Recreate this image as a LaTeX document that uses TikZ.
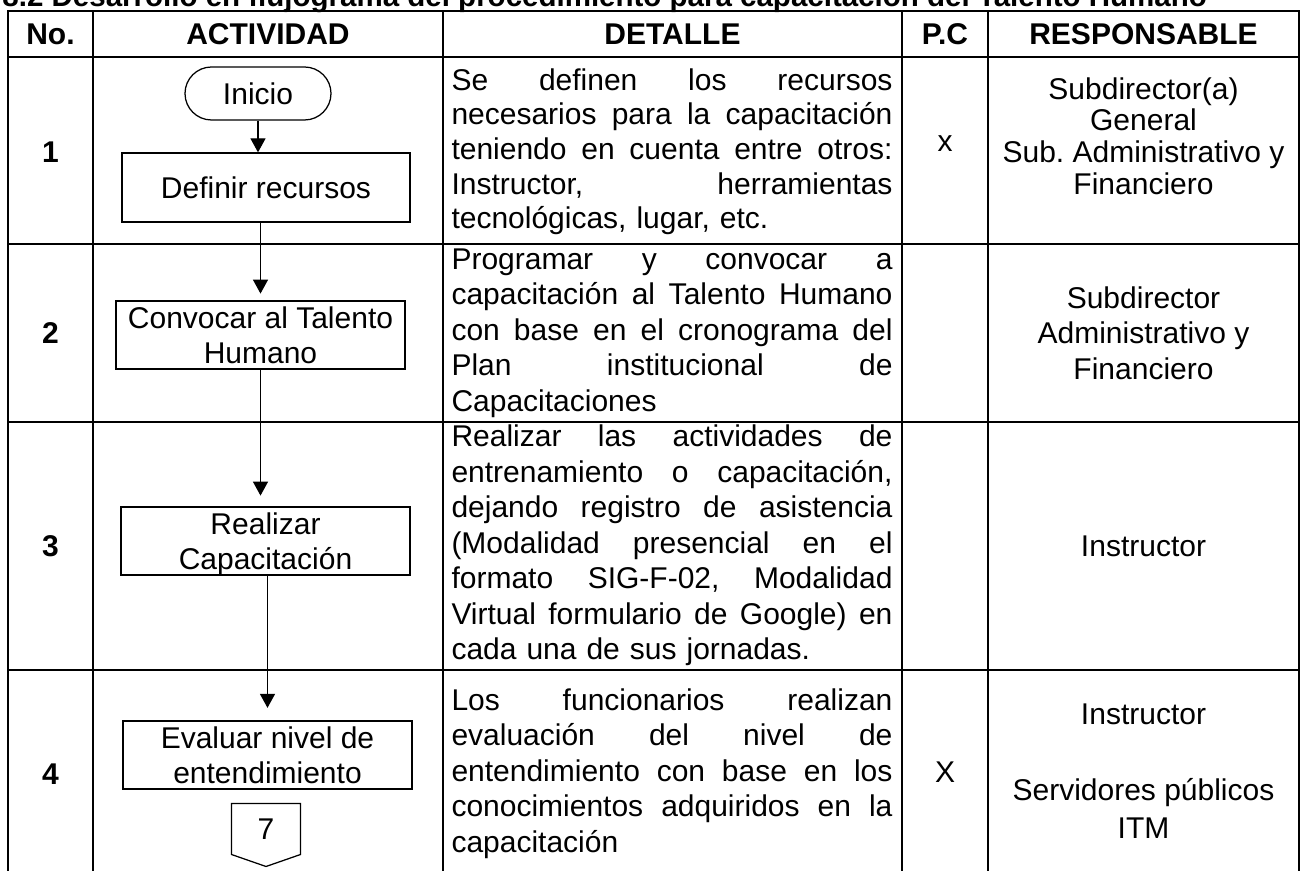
\documentclass[tikz,border=0pt,12pt]{standalone}
\usepackage{fontspec}
\setmainfont{Liberation Sans}
\usepackage{tikz}
\usetikzlibrary{arrows.meta}

\newcommand{\bodyfont}{\fontsize{12}{14.2}\selectfont}
\newcommand{\jline}[1]{\leavevmode{\frenchspacing\spaceskip=3.3pt plus 1fil\hbox to 176.4pt{\strut #1}}}

\begin{document}
\begin{tikzpicture}[x=0.4pt,y=-0.4pt,>={Triangle[width=6pt,length=5.6pt]}]
\tikzstyle{grid}=[line width=0.8pt,line cap=rect]
\tikzstyle{box}=[draw,line width=0.5pt,rectangle,minimum width=115.6pt,minimum height=27.2pt,inner sep=0pt,text depth=0pt,align=center,font=\bodyfont]
\tikzstyle{term}=[box,minimum width=58.4pt,minimum height=21.2pt,rounded corners=10.6pt]
\tikzstyle{arrow}=[draw,line width=0.5pt,->]
\tikzstyle{detail}=[anchor=west,inner sep=0pt,text width=176.4pt,align=left,font=\bodyfont]
\tikzstyle{resp}=[inner sep=0pt,align=center,font=\bodyfont]
\useasboundingbox (0,0) rectangle (1301,871);
\clip (0,0) rectangle (1301,871);
% title, cut by the page edge
\node[anchor=base west,inner sep=0pt,font=\fontsize{11.8}{13}\selectfont\bfseries] (title) at (2,7) {8.2 Desarrollo en flujograma del procedimiento para capacitación del Talento Humano};
% table
\foreach \y in {11,57,244,422,670}
  \draw[grid] (8,\y) -- (1299,\y);
\foreach \x in {8,93,443,902,988,1299}
  \draw[grid] (\x,11) -- (\x,890);
\foreach \x/\t [count=\i] in {50.5/No.,268/ACTIVIDAD,672.5/DETALLE,945/P.C,1143.5/RESPONSABLE}
  \node[font=\bfseries] (h_\i) at (\x,34) {\t};
\foreach \y/\n in {152/1,333/2,546/3,774/4}
  \node[font=\bfseries] (n_\n) at (50.5,\y) {\n};
% flow chart
\node[term] (ini) at (258,93.5) {Inicio};
\node[box,minimum width=115.2pt,minimum height=27.6pt] (a_1) at (266,187.5) {Definir recursos};
\node[box] (a_2) at (260.5,335) {Convocar al Talento\\Humano};
\node[box] (a_3) at (265.5,541) {Realizar\\Capacitación};
\node[box] (a_4) at (267.5,755) {Evaluar nivel de\\entendimiento};
\node[inner sep=0pt,minimum width=27.2pt,minimum height=20pt,font=\bodyfont] (c_7) at (266,829) {7};
\draw[line width=0.5pt] (c_7.north west) -- (c_7.north east) -- (c_7.south east) -- ([yshift=-4.8pt]c_7.south) -- (c_7.south west) -- cycle;
\path[arrow] (ini.south) -- (ini.south |- a_1.north);
\path[arrow,shorten >=2.7pt] (a_1.south -| a_2.north) -- (a_2.north);
\path[arrow,shorten >=4.3pt] (a_2.south) -- (a_2.south |- a_3.north);
\path[arrow,shorten >=5pt] (a_3.south -| a_4.north) -- (a_4.north);
% detalle
\node[detail,font=\fontsize{12}{13.85}\selectfont] (d_1) at (451,152.5) {\jline{Se definen los recursos}\\\jline{necesarios para la capacitación}\\\jline{teniendo en cuenta entre otros:}\\\jline{Instructor, herramientas}\\\strut tecnológicas, lugar, etc.};
\node[detail] (d_2) at (451,333) {\jline{Programar y convocar a}\\\jline{capacitación al Talento Humano}\\\jline{con base en el cronograma del}\\\jline{Plan institucional de}\\\strut Capacitaciones};
\node[detail] (d_3) at (451,546) {\jline{Realizar las actividades de}\\\jline{entrenamiento o capacitación,}\\\jline{dejando registro de asistencia}\\\jline{(Modalidad presencial en el}\\\jline{formato SIG-F-02, Modalidad}\\\jline{Virtual formulario de Google) en}\\\strut cada una de sus jornadas.};
\node[detail] (d_4) at (451,774) {\jline{Los funcionarios realizan}\\\jline{evaluación del nivel de}\\\jline{entendimiento con base en los}\\\jline{conocimientos adquiridos en la}\\\strut capacitación};
% p.c
\node[resp] (p_1) at (945,143.5) {x};
\node[resp] (p_4) at (945,772) {X};
% responsable
\node[resp,font=\fontsize{12}{12.7}\selectfont] (r_1) at (1143.5,136) {Subdirector(a)\\General\\Sub.\ Administrativo y\\Financiero};
\node[resp] (r_2) at (1143.5,333) {Subdirector\\Administrativo y\\Financiero};
\node[resp] (r_3) at (1143.5,546) {Instructor};
\node[resp,font=\fontsize{12}{15.2}\selectfont] (r_4) at (1143.5,771) {Instructor\\[15.2pt]Servidores públicos\\ITM};
\end{tikzpicture}
\end{document}
